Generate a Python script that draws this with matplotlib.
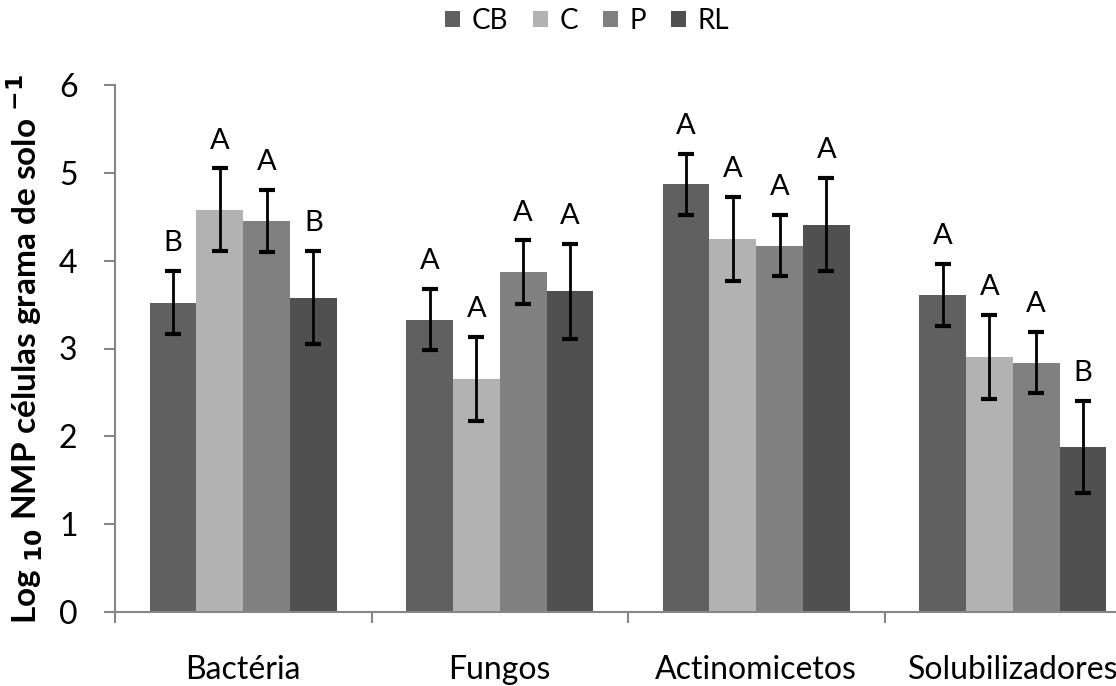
import numpy as np
import matplotlib.pyplot as plt

plt.rcParams['font.family'] = ['Lato', 'DejaVu Sans']
plt.rcParams['mathtext.default'] = 'bf'

groups = ['Bactéria', 'Fungos', 'Actinomicetos', 'Solubilizadores']
series = ['CB', 'C', 'P', 'RL']
colors = ['#606060', '#b2b2b2', '#808080', '#505050']

# log10 NMP means per group (rows = groups, cols = series)
means = np.array([
    [3.52, 4.58, 4.45, 3.58],
    [3.33, 2.65, 3.87, 3.65],
    [4.87, 4.25, 4.17, 4.41],
    [3.61, 2.90, 2.84, 1.88],
])
errors = np.array([
    [0.36, 0.47, 0.35, 0.53],
    [0.35, 0.48, 0.36, 0.54],
    [0.35, 0.48, 0.35, 0.53],
    [0.35, 0.48, 0.35, 0.52],
])
letters = [
    ['B', 'A', 'A', 'B'],
    ['A', 'A', 'A', 'A'],
    ['A', 'A', 'A', 'A'],
    ['A', 'A', 'A', 'B'],
]

fig = plt.figure(figsize=(11.16, 6.86), dpi=100)
ax = fig.add_axes([115 / 1116, 74 / 686, 1026 / 1116, 527 / 686])

n = len(series)
width = 0.73 / n
x = np.arange(len(groups))
for j, name in enumerate(series):
    xpos = x + (j - (n - 1) / 2) * width
    ax.bar(xpos, means[:, j], width, color=colors[j], label=name, zorder=2)
    ax.errorbar(xpos, means[:, j], yerr=errors[:, j], fmt='none', ecolor='black',
                elinewidth=2, capsize=5.5, capthick=3, zorder=3)
    for i in range(len(groups)):
        ax.text(xpos[i], means[i, j] + errors[i, j] + 0.17, letters[i][j],
                ha='center', va='bottom', fontsize=21)

ax.set_xlim(-0.5, len(groups) - 0.5)
ax.set_ylim(0, 6)
ax.set_yticks(range(0, 7))
ax.set_xticks(np.arange(len(groups) + 1) - 0.5)
ax.set_xticklabels([])
ax.set_xticks(x, minor=True)
ax.set_xticklabels(groups, minor=True, fontsize=23)
ax.tick_params(axis='x', which='minor', length=0, pad=31)
ax.tick_params(axis='x', which='major', length=8, color='#868686', width=1.5)
ax.tick_params(axis='y', length=8, color='#868686', width=1.5, labelsize=23, pad=19)

for s in ['top', 'right']:
    ax.spines[s].set_visible(False)
for s in ['left', 'bottom']:
    ax.spines[s].set_color('#868686')
    ax.spines[s].set_linewidth(1.5)

ax.set_ylabel(r'Log $_{10}$ NMP células grama de solo $^{-1}$', fontsize=24,
              fontweight='bold', labelpad=10)

fig.legend(loc='upper center', bbox_to_anchor=(587 / 1116, 1.025), ncol=4,
           frameon=False, fontsize=20, handlelength=0.55, handleheight=0.55,
           handletextpad=0.4, columnspacing=0.9)

plt.savefig('out.png', dpi=100)
